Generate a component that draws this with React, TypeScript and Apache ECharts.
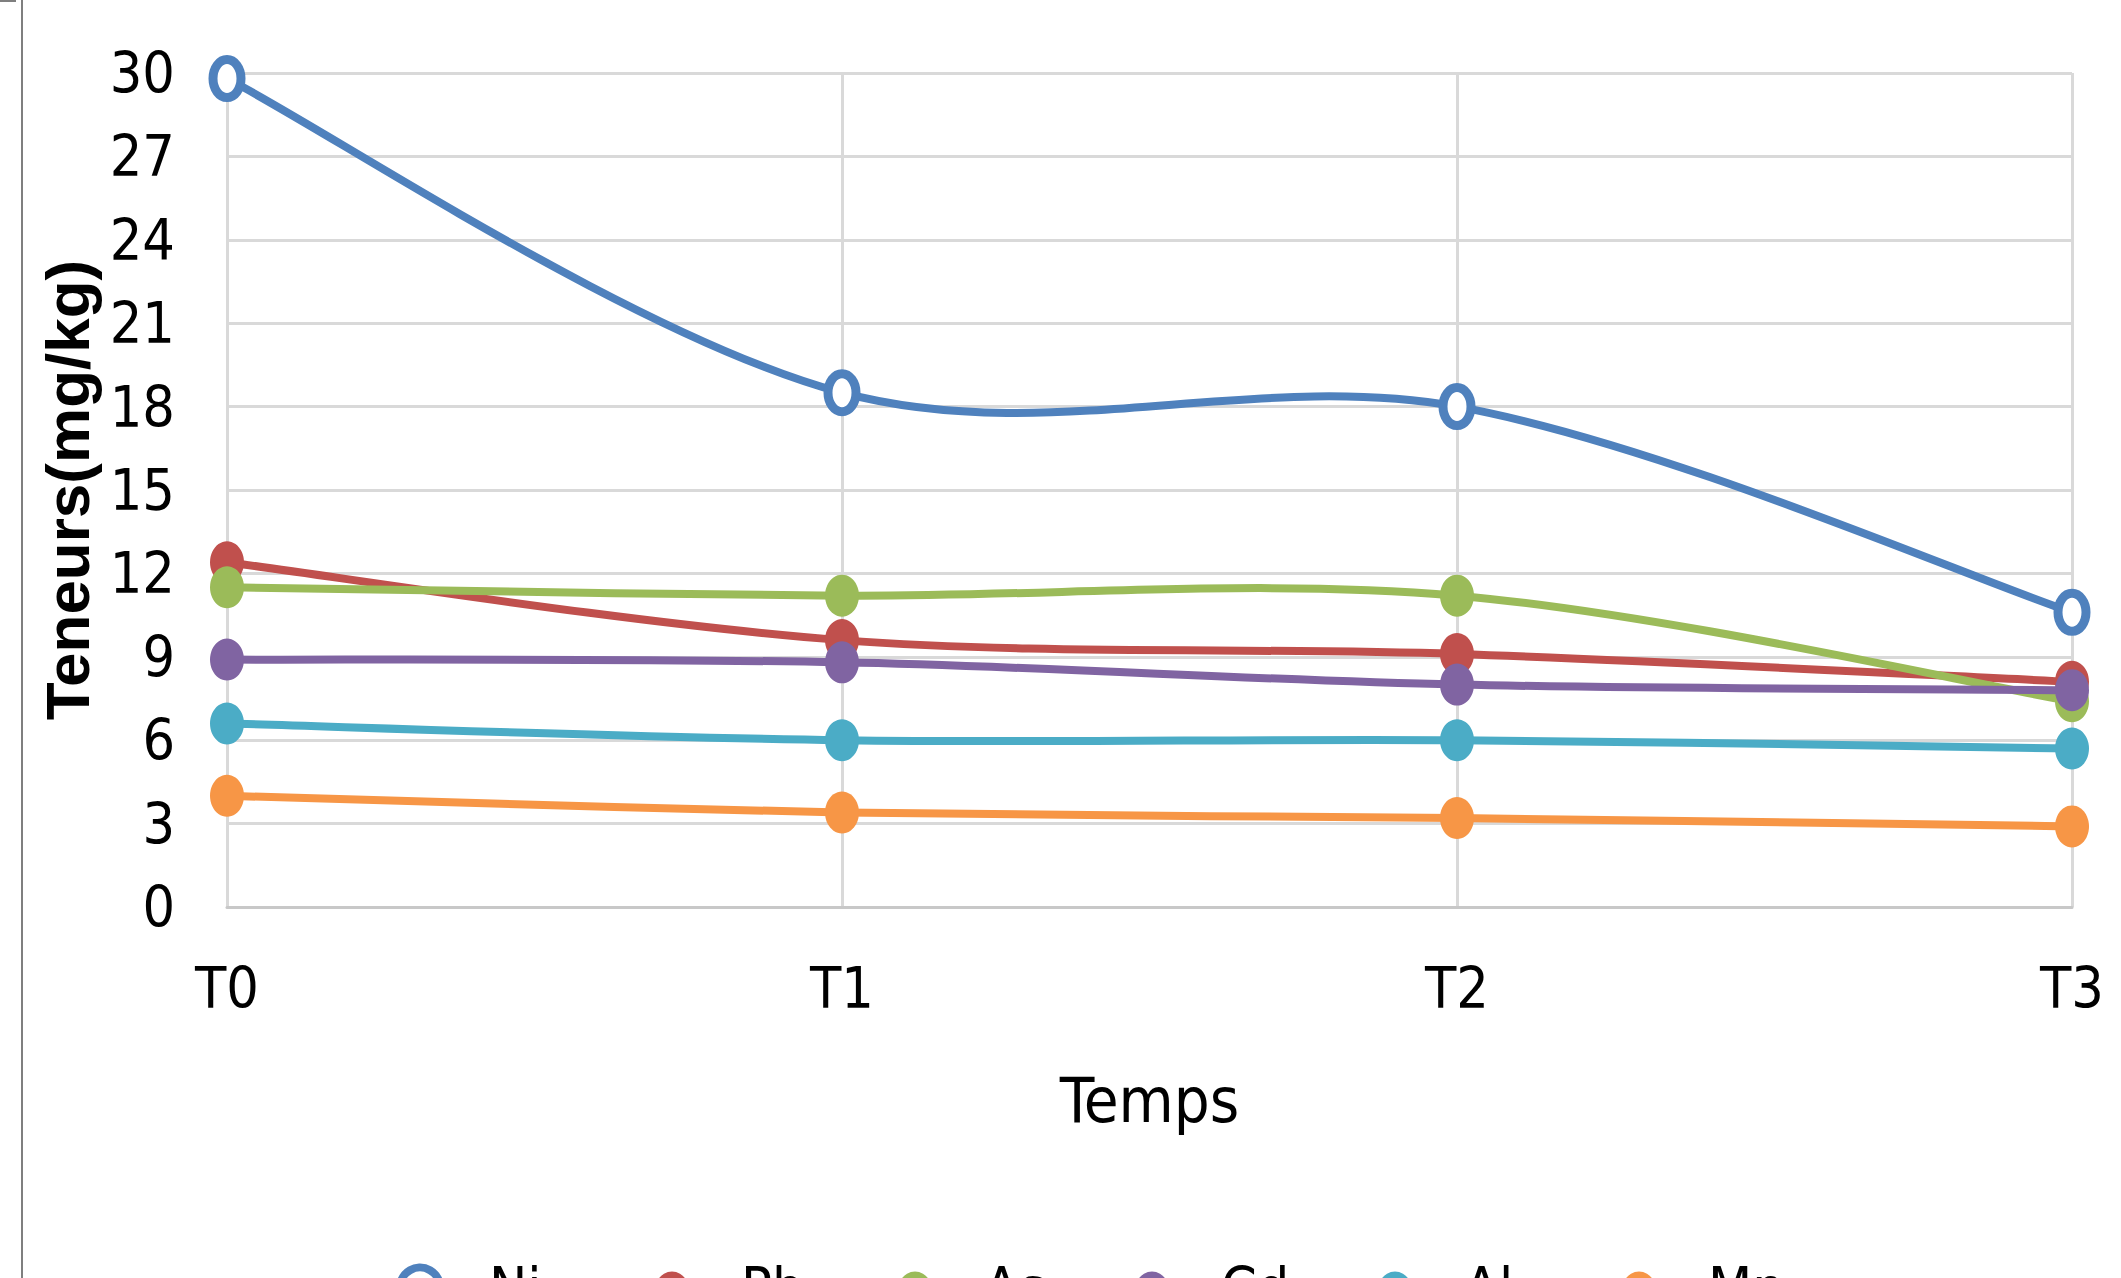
import React, { useEffect, useRef } from "react";
import * as echarts from "echarts";

const categories = ["T0", "T1", "T2", "T3"];
const seriesNames = ["Ni", "Pb", "As", "Cd", "Al", "Mn"];
const niValues = [29.8, 18.5, 18.0, 10.6];
const pbValues = [12.4, 9.6, 9.1, 8.1];
const asValues = [11.5, 11.2, 11.2, 7.4];
const cdValues = [8.9, 8.8, 8.0, 7.8];
const alValues = [6.6, 6.0, 6.0, 5.7];
const mnValues = [4.0, 3.4, 3.2, 2.9];
const colors = ["#4F81BD", "#C0504D", "#9BBB59", "#8064A2", "#4BACC6", "#F79646"];
const yTicks = { min: 0, max: 30, interval: 3 };

const FONT = "'Liberation Sans Narrow', 'DejaVu Sans Condensed', 'Liberation Sans', sans-serif";

export default function App() {
  const ref = useRef<HTMLDivElement>(null);
  useEffect(() => {
    document.body.style.margin = "0";
    const chart = echarts.init(ref.current!, null, { renderer: "svg" });
    const allValues = [niValues, pbValues, asValues, cdValues, alValues, mnValues];

    const curveSeries = seriesNames.map((name, i) => {
      const vals = allValues[i];
      return {
        name: name + "-curve",
        type: "custom",
        data: vals.map((v, k) => [k, v]),
        encode: { x: 0, y: 1 },
        silent: true,
        z: 2 + i * 3,
        renderItem: (params: any, api: any) => {
          const k = params.dataIndex;
          if (k >= vals.length - 1) return null;
          const pt = (j: number) => {
            const jj = Math.max(0, Math.min(vals.length - 1, j));
            return api.coord([jj, vals[jj]]);
          };
          const p0 = pt(k - 1);
          const p1 = pt(k);
          const p2 = pt(k + 1);
          const p3 = pt(k + 2);
          return {
            type: "bezierCurve",
            shape: {
              x1: p1[0],
              y1: p1[1],
              cpx1: p1[0] + (p2[0] - p0[0]) / 6,
              cpy1: p1[1] + (p2[1] - p0[1]) / 6,
              cpx2: p2[0] - (p3[0] - p1[0]) / 6,
              cpy2: p2[1] - (p3[1] - p1[1]) / 6,
              x2: p2[0],
              y2: p2[1],
            },
            style: { stroke: colors[i], lineWidth: 8, fill: null, lineCap: "round" },
          };
        },
      };
    });

    // hollow elliptical markers for Ni
    const niMarkerSeries = {
      name: "Ni-markers",
      type: "custom",
      data: niValues.map((v, k) => [k, v]),
      encode: { x: 0, y: 1 },
      silent: true,
      z: 4,
      renderItem: (params: any, api: any) => {
        const p = api.coord([api.value(0), api.value(1)]);
        return {
          type: "ellipse",
          shape: { cx: p[0], cy: p[1], rx: 14, ry: 19 },
          style: { fill: "#ffffff", stroke: colors[0], lineWidth: 9 },
        };
      },
    };

    const markerSeries = seriesNames.map((name, i) => ({
      name,
      type: "line",
      data: allValues[i],
      symbol: i === 0 ? "none" : "circle",
      symbolSize: [34, 42],
      showSymbol: i !== 0,
      lineStyle: { color: colors[i], width: 8, opacity: 0 },
      itemStyle: { color: colors[i], borderWidth: 0 },
      z: 3 + i * 3,
    }));

    const legendCenters = [441, 663, 906, 1143, 1386, 1630];
    const legends = seriesNames.map((name, i) => ({
      data: [
        i === 0
          ? { name, icon: "circle", itemStyle: { color: "#ffffff", borderColor: colors[0], borderWidth: 8 } }
          : { name },
      ],
      left: legendCenters[i] - 50,
      top: 1254,
      itemWidth: 100,
      itemHeight: 40,
      lineStyle: { color: colors[i], width: 8, opacity: 1 },
      textStyle: { fontFamily: FONT, fontSize: 57, color: "#000", padding: [0, 0, 0, 14] },
    }));

    chart.setOption({
      animation: false,
      backgroundColor: "#ffffff",
      grid: { left: 227, right: 49, top: 73, bottom: 371, containLabel: false },
      legend: legends,
      xAxis: {
        type: "category",
        data: categories,
        boundaryGap: false,
        name: "Temps",
        nameLocation: "middle",
        nameGap: 162,
        nameTextStyle: { fontFamily: FONT, fontSize: 63, color: "#000", lineHeight: 62 },
        axisLine: { show: true, lineStyle: { color: "#c8c8c8", width: 3 } },
        axisTick: { show: false },
        axisLabel: { fontFamily: FONT, fontSize: 57, color: "#000", margin: 51, lineHeight: 60 },
        splitLine: { show: true, lineStyle: { color: "#d9d9d9", width: 3 } },
      },
      yAxis: {
        type: "value",
        min: yTicks.min,
        max: yTicks.max,
        interval: yTicks.interval,
        name: "Teneurs(mg/kg)",
        nameLocation: "middle",
        nameRotate: 90,
        nameGap: 126,
        nameTextStyle: { fontFamily: "'Liberation Sans', sans-serif", fontWeight: "bold", fontSize: 62, color: "#000", lineHeight: 60 },
        axisLine: { show: false },
        axisTick: { show: false },
        axisLabel: { fontFamily: FONT, fontSize: 57, color: "#000", margin: 52 },
        splitLine: { show: true, lineStyle: { color: "#d9d9d9", width: 3 } },
      },
      graphic: [
        { type: "line", shape: { x1: 22, y1: 0, x2: 22, y2: 1278 }, style: { stroke: "#7f7f7f", lineWidth: 2 } },
        { type: "line", shape: { x1: 0, y1: 1, x2: 16, y2: 1 }, style: { stroke: "#7f7f7f", lineWidth: 2 } },
      ],
      series: [...curveSeries, niMarkerSeries, ...markerSeries],
    });
    return () => chart.dispose();
  }, []);
  return <div ref={ref} style={{ width: 2121, height: 1278 }} />;
}
